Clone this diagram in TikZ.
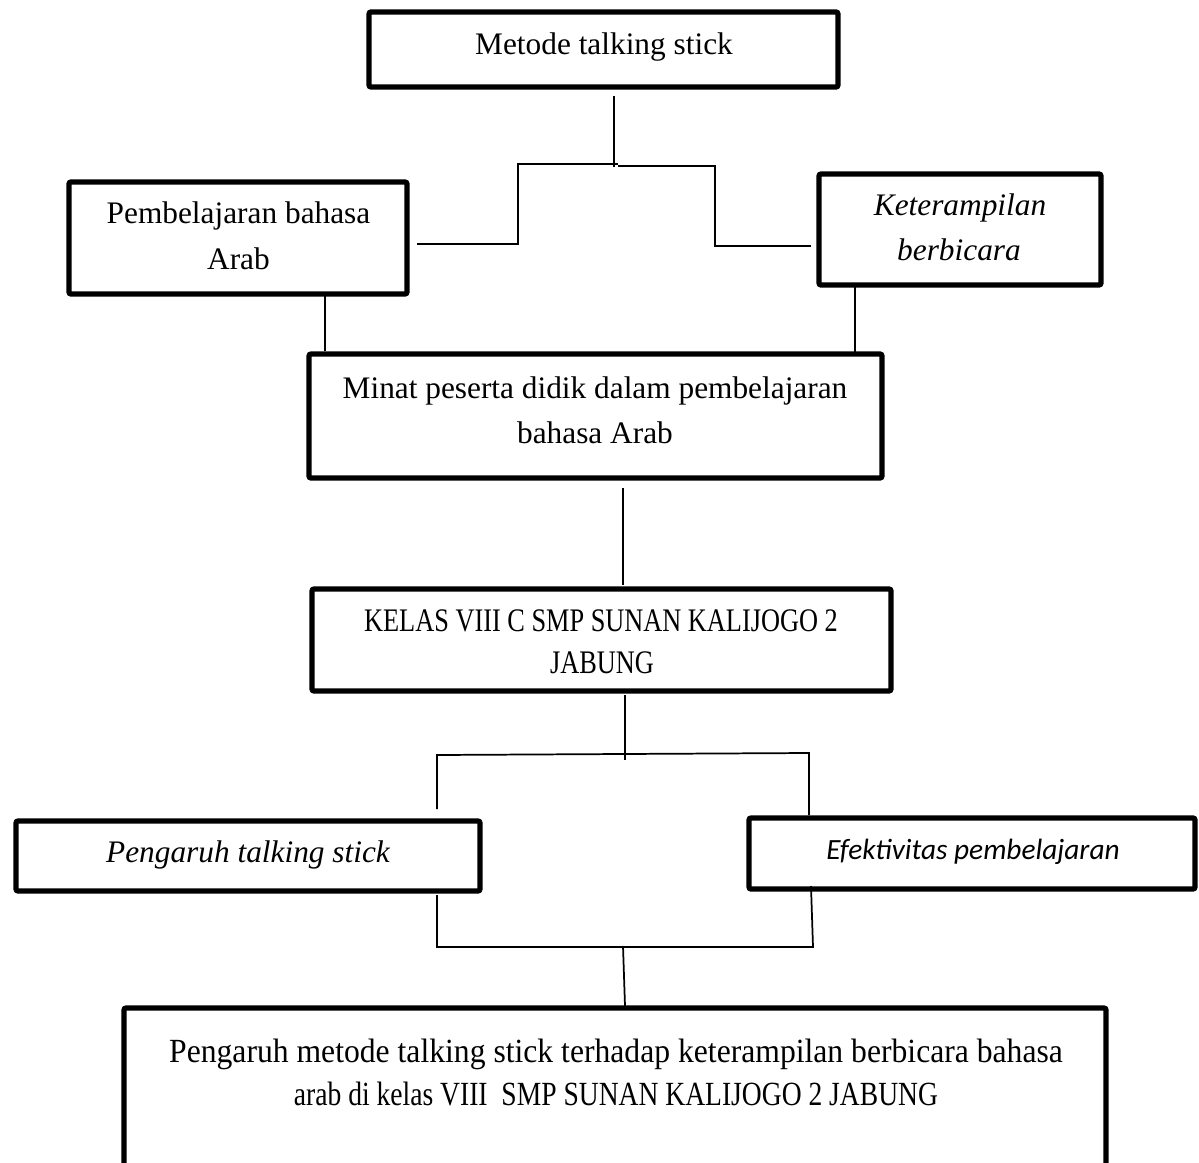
\documentclass[tikz,border=0pt]{standalone}
\usepackage{fontspec}
\setmainfont{Liberation Serif}
\newfontfamily\calibfont{Carlito}
\begin{document}
\begin{tikzpicture}[x=0.75pt,y=-0.75pt,
  box/.style={draw, line width=3.9pt, rounded corners=1.5pt, inner sep=0pt},
  conn/.style={line width=1.3pt},
  lbl/.style={anchor=base, inner sep=0pt, font=\fontsize{23.5}{30}\selectfont},
  ilbl/.style={lbl, font=\fontsize{23.5}{30}\selectfont\itshape},
  clbl/.style={lbl, font=\fontsize{22}{28}\calibfont\itshape}]
\useasboundingbox (0,0) rectangle (1199,1163);
\clip (0,0) rectangle (1199,1163);

% boxes
\node[box, minimum width=469*0.75pt, minimum height=75*0.75pt] (b1) at (603.5,49.5) {};
\node[box, minimum width=338*0.75pt, minimum height=112*0.75pt] (b2) at (238,238) {};
\node[box, minimum width=282*0.75pt, minimum height=111*0.75pt] (b3) at (960,229.5) {};
\node[box, minimum width=573*0.75pt, minimum height=124*0.75pt] (b4) at (595.5,416) {};
\node[box, minimum width=579*0.75pt, minimum height=102*0.75pt] (b5) at (601.5,640) {};
\node[box, minimum width=464*0.75pt, minimum height=70*0.75pt] (b6) at (248,856) {};
\node[box, minimum width=446*0.75pt, minimum height=71*0.75pt] (b7) at (972,853.5) {};
\node[box, minimum width=982*0.75pt, minimum height=192*0.75pt] (b8) at (615,1104) {};

% texts
\node[lbl] (t1) at (604,55) {Metode talking stick};
\node[lbl] (t2a) at (238.5,223) {Pembelajaran bahasa};
\node[lbl] (t2b) at (238.5,269) {Arab};
\node[ilbl] (t3a) at (960,215) {Keterampilan};
\node[ilbl] (t3b) at (959,260) {berbicara};
\node[lbl] (t4a) at (595,398) {Minat peserta didik dalam pembelajaran};
\node[lbl] (t4b) at (595,443) {bahasa Arab};
\node[lbl] (t5a) at (601,631.5) {\scalebox{0.84}[1.05]{KELAS VIII C SMP SUNAN KALIJOGO 2}};
\node[lbl] (t5b) at (602,673.5) {\scalebox{0.84}[1.05]{JABUNG}};
\node[ilbl] (t6) at (248,862) {Pengaruh talking stick};
\node[clbl] (t7) at (973,859) {Efektivitas pembelajaran};
\node[lbl] (t8a) at (616,1062) {\scalebox{1.01}[1.08]{Pengaruh metode talking stick terhadap keterampilan berbicara bahasa}};
\node[lbl] (t8b) at (616,1105) {\scalebox{0.88}[1.08]{arab di kelas VIII\ \ SMP SUNAN KALIJOGO 2 JABUNG}};

% connector points
\coordinate (p1a) at (614,96);
\coordinate (p1b) at (614,167);
\coordinate (p2a) at (618,164);
\coordinate (p2b) at (518,164);
\coordinate (p2c) at (518,244);
\coordinate (p2d) at (417,244);
\coordinate (p3a) at (618,166);
\coordinate (p3b) at (715,166);
\coordinate (p3c) at (715,246);
\coordinate (p3d) at (811,246);
\coordinate (p4a) at (325,296);
\coordinate (p4b) at (325,351);
\coordinate (p5a) at (855,287);
\coordinate (p5b) at (855,352);
\coordinate (p6a) at (623,488);
\coordinate (p6b) at (623,585);
\coordinate (p7a) at (625,695);
\coordinate (p7b) at (625,760);
\coordinate (p8a) at (437,809);
\coordinate (p8b) at (437,755);
\coordinate (p8c) at (809,753);
\coordinate (p8d) at (809,815);
\coordinate (p9a) at (437,895);
\coordinate (p9b) at (437,947);
\coordinate (p9c) at (813,947);
\coordinate (p9d) at (811,886);
\coordinate (p10a) at (623,946);
\coordinate (p10b) at (625,1006);

\draw[conn] (p1a) -- (p1b);
\draw[conn] (p2a) -- (p2b) -- (p2c) -- (p2d);
\draw[conn] (p3a) -- (p3b) -- (p3c) -- (p3d);
\draw[conn] (p4a) -- (p4b);
\draw[conn] (p5a) -- (p5b);
\draw[conn] (p6a) -- (p6b);
\draw[conn] (p7a) -- (p7b);
\draw[conn] (p8a) -- (p8b) -- (p8c) -- (p8d);
\draw[conn] (p9a) -- (p9b) -- (p9c) -- (p9d);
\draw[conn] (p10a) -- (p10b);
\end{tikzpicture}
\end{document}
